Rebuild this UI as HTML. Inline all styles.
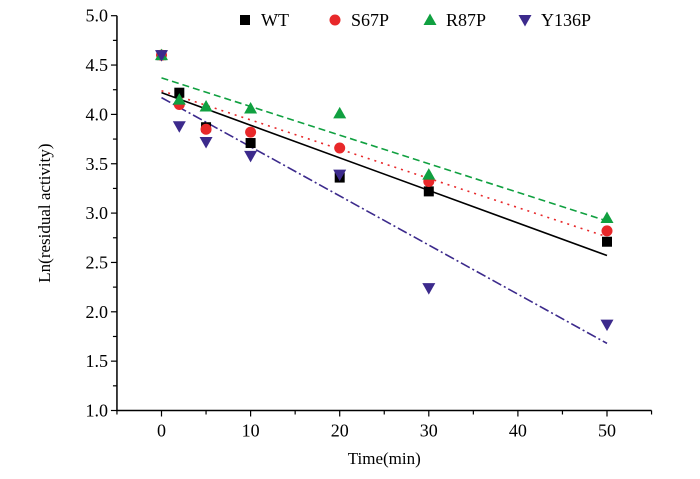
<!DOCTYPE html>
<html><head><meta charset="utf-8"><style>
body{margin:0;background:#fff}
svg{font-family:"Liberation Serif",serif}
</style></head><body>
<svg id="c" width="700" height="474"></svg>
<script>
const categories=[0,2,5,10,20,30,50];
const seriesNames=["WT","S67P","R87P","Y136P"];
const wt=[4.6,4.22,3.87,3.71,3.36,3.22,2.71];
const s67p=[4.6,4.1,3.85,3.82,3.66,3.32,2.82];
const r87p=[4.6,4.15,4.08,4.06,4.01,3.39,2.95];
const y136p=[4.6,3.88,3.72,3.58,3.39,2.24,1.87];
const fitStart=[4.22,4.24,4.37,4.17];
const fitEnd=[2.57,2.76,2.92,1.68];
const xTicks=[0,10,20,30,40,50];
const yTicks=[1.0,1.5,2.0,2.5,3.0,3.5,4.0,4.5,5.0];
const NS="http://www.w3.org/2000/svg";
const svg=document.getElementById('c');
const X=v=>161.5+(v-0)*8.91;
const Y=v=>410.5-(v-1)*98.7;
function el(t,a,p){const e=document.createElementNS(NS,t);for(const k in a)e.setAttribute(k,a[k]);(p||svg).appendChild(e);return e;}
const series=[wt,s67p,r87p,y136p];
const colors=["#000","#e8282a","#10a040","#3c2a8c"];
const dashes=["","2,5","7,4","10,3,2,3"];
const shapes=["sq","ci","tu","td"];
function marker(s,x,y,c){let e;
 if(s=="sq")e=el('rect',{x:x-5,y:y-5,width:10,height:10,fill:c});
 else if(s=="ci")e=el('circle',{cx:x,cy:y,r:5.5,fill:c});
 else if(s=="tu")e=el('polygon',{points:`${x-6.5},${y+5} ${x+6.5},${y+5} ${x},${y-6.5}`,fill:c});
 else e=el('polygon',{points:`${x-6.5},${y-5} ${x+6.5},${y-5} ${x},${y+6.5}`,fill:c});
 return e;}
const ax=el('path',{d:`M${X(-5)},${Y(5)}V${Y(1)}H${X(55)}`,stroke:'#000','stroke-width':1.5,fill:'none'});


for(let v=-5;v<=55;v+=5){el('line',{x1:X(v),x2:X(v),y1:Y(1),y2:Y(1)+(v%10==0?6:4),stroke:'#000','stroke-width':1.2});}
for(let v=1;v<=5.001;v+=0.25){const major=Math.abs(v*2-Math.round(v*2))<1e-6;el('line',{x1:X(-5),x2:X(-5)-(major?6:4),y1:Y(v),y2:Y(v),stroke:'#000','stroke-width':1.2});}
xTicks.forEach(v=>{const t=el('text',{x:X(v),y:Y(1)+26,'text-anchor':'middle','font-size':18});t.textContent=v;
 
 });
yTicks.forEach(v=>{const t=el('text',{x:X(-5)-9,y:Y(v)+6,'text-anchor':'end','font-size':18});t.textContent=v.toFixed(1);
 
 });
const xt=el('text',{x:X(25),y:464,'text-anchor':'middle','font-size':17});xt.textContent="Time(min)";


const yt=el('text',{transform:`translate(50,${Y(3)}) rotate(-90)`,'text-anchor':'middle','font-size':17});yt.textContent="Ln(residual activity)";


series.forEach((d,i)=>{
 const l=el('line',{x1:X(0),y1:Y(fitStart[i]),x2:X(50),y2:Y(fitEnd[i]),stroke:colors[i],'stroke-width':1.6,'stroke-dasharray':dashes[i]});
 
 
});
series.forEach((d,i)=>{d.forEach((v,j)=>{const m=marker(shapes[i],X(categories[j]),Y(v),colors[i]);
 
 });});
const lx=[245,335,430,525];
seriesNames.forEach((n,i)=>{const m=marker(shapes[i],lx[i],20,colors[i]);
 
 
 const t=el('text',{x:lx[i]+16,y:26,'font-size':18});t.textContent=n;
 
 });
</script>
</body></html>
